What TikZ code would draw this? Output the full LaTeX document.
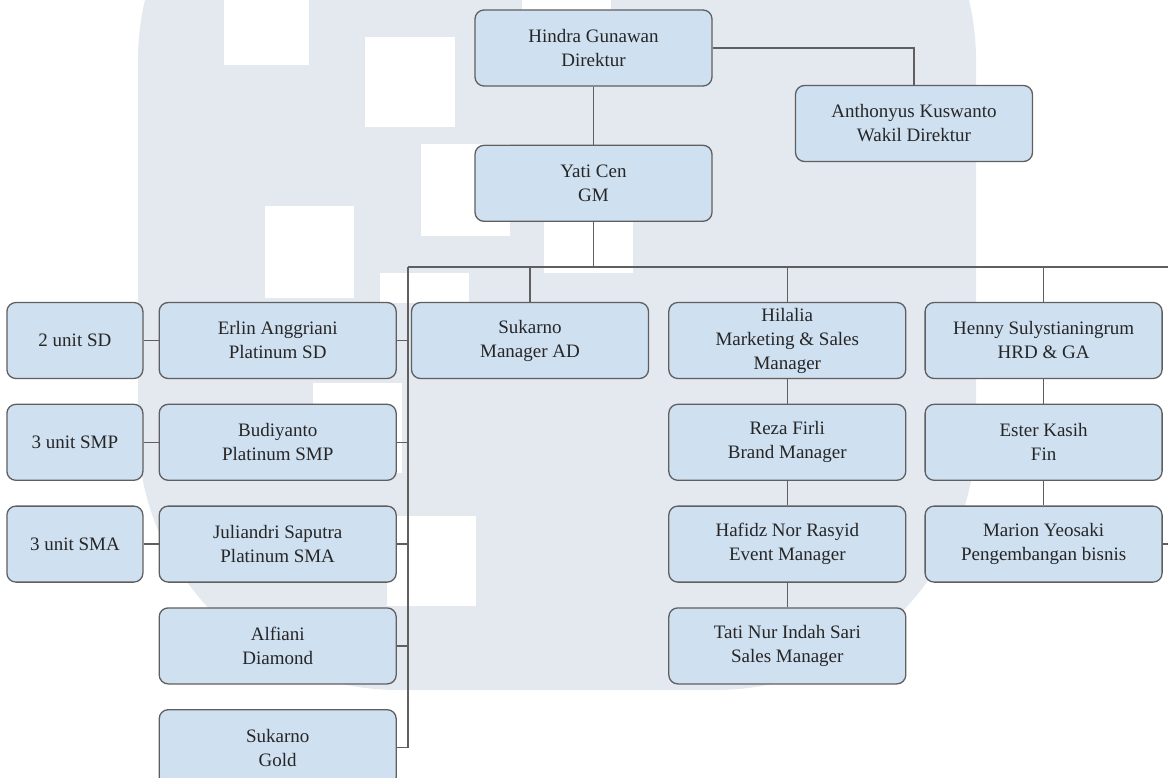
\documentclass[tikz,border=0pt]{standalone}
\usepackage{fontspec}
\setmainfont{Liberation Serif}
\usetikzlibrary{positioning}

\definecolor{boxfill}{RGB}{207,224,241}
\definecolor{boxline}{RGB}{95,95,95}
\definecolor{wmgray}{RGB}{228,232,239}

\begin{document}
\begin{tikzpicture}[x=1pt, y=-1pt,
    node distance=24.5pt,          % Vertical gap between boxes
    every node/.style={rectangle,
                       rounded corners=9pt,
                       draw=boxline,
                       line width=1.3pt,
                       fill=boxfill,
                       text=black!85,
                       minimum width=237pt,  % width of a staff box
                       minimum height=76pt,
                       inner ysep=1pt,
                       font=\fontsize{19}{24}\selectfont,
                       align=center},
    unit/.style={minimum width=136pt},
    link/.style={draw=boxline, line width=1.3pt}]

  \useasboundingbox (0,0) rectangle (1168,778);

  % Light mark in the background
  \fill[wmgray, rounded corners=260pt] (138,-200) rectangle (976,690);
  \foreach \x/\y/\w/\h in {224/0/85/65, 365/37/90/90, 522/0/89/10,
                           421/144/89/92, 265/206/89/92, 544/220/89/53,
                           380/273/89/30, 313/383/89/90, 387/516/89/90}
    \fill[white] (\x,\y) rectangle ++(\w,\h);

  % Top of the chart
  \node (Hindra) at (593.5,48) {Hindra Gunawan\\Direktur};
  \node (Yati) [below=58pt of Hindra] {Yati Cen\\GM};
  \node (Anthonyus) at (914,123.5) {Anthonyus Kuswanto\\Wakil Direktur};

  % Row of department heads
  \node (SukarnoAD) at (530,340.5) {Sukarno\\Manager AD};
  \node (Hilalia) [right=19pt of SukarnoAD] {Hilalia\\Marketing \& Sales\\Manager};
  \node (Henny) [right=18pt of Hilalia] {Henny Sulystianingrum\\HRD \& GA};
  \node (Erlin) [left=14pt of SukarnoAD] {Erlin Anggriani\\Platinum SD};

  % Left stack
  \node (Budiyanto) [below=of Erlin] {Budiyanto\\Platinum SMP};
  \node (Juliandri) [below=of Budiyanto] {Juliandri Saputra\\Platinum SMA};
  \node (Alfiani) [below=of Juliandri] {Alfiani\\Diamond};
  \node (SukarnoGold) [below=of Alfiani] {Sukarno\\Gold};
  \node (UnitSD) [unit, left=15pt of Erlin] {2 unit SD};
  \node (UnitSMP) [unit, left=15pt of Budiyanto] {3 unit SMP};
  \node (UnitSMA) [unit, left=15pt of Juliandri] {3 unit SMA};

  % Marketing and HRD stacks
  \node (Reza) [below=of Hilalia] {Reza Firli\\Brand Manager};
  \node (Hafidz) [below=of Reza] {Hafidz Nor Rasyid\\Event Manager};
  \node (Tati) [below=of Hafidz] {Tati Nur Indah Sari\\Sales Manager};
  \node (Ester) [below=of Henny] {Ester Kasih\\Fin};
  \node (Marion) [below=of Ester] {Marion Yeosaki\\Pengembangan bisnis};

  % Connecting lines
  \coordinate (trunk) at (408,267);
  \coordinate (edge) at (1175,267);
  \draw[link] (trunk) -- (edge);
  \draw[link] (Hindra) -- (Yati);
  \draw[link] (Hindra.east) -| (Anthonyus.north);
  \draw[link] (Yati.south) -- (Yati.south |- trunk);
  \foreach \n in {SukarnoAD, Hilalia, Henny}
    \draw[link] (\n.north) -- (\n.north |- trunk);
  \draw[link] (trunk) |- (SukarnoGold.east);
  \foreach \n in {Erlin, Budiyanto, Juliandri, Alfiani}
    \draw[link] (\n.east) -- (\n.east -| trunk);
  \draw[link] (UnitSD) -- (Erlin);
  \draw[link] (UnitSMP) -- (Budiyanto);
  \draw[link] (UnitSMA) -- (Juliandri);
  \draw[link] (Hilalia) -- (Reza) -- (Hafidz) -- (Tati);
  \draw[link] (Henny) -- (Ester) -- (Marion);
  \draw[link] (Marion.east) -- (Marion.east -| edge);

\end{tikzpicture}
\end{document}
